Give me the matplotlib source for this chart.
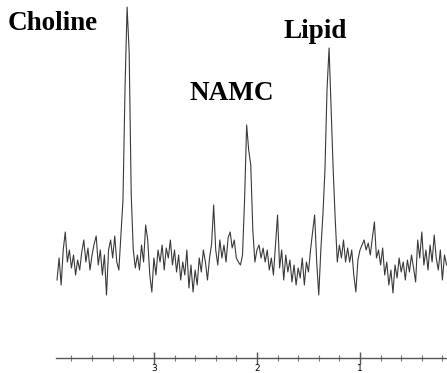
import matplotlib
matplotlib.use("Agg")
import matplotlib.pyplot as plt
from matplotlib.ticker import MultipleLocator
import numpy as np

# chemical shift grid (ppm), high -> low
ppm = np.linspace(3.94, 0.16, 190)

# signal intensity (arbitrary units, baseline ~ 0)
intensity = [
    -15, 7, -20, 15, 33, 3, 15, -3, 10, -10,
    5, -5, 13, 25, 3, 17, -5, 10, 21, 29,
    0, 15, -10, 10, -30, 15, 25, 7, 29, 3,
    -5, 30, 65, 178, 258, 213, 70, 15, -3, 10,
    -5, 20, 3, 40, 25, -10, -27, 7, -10, 15,
    3, 20, -5, 17, 7, 25, 0, 15, -7, 10,
    -15, 3, -10, 15, -23, 0, -27, -5, -20, 7,
    -7, 15, 3, -15, 7, 21, 60, 15, 0, 25,
    7, 20, 3, 27, 33, 17, 25, 7, 3, 0,
    10, 65, 140, 115, 100, 35, 3, 15, 20, 7,
    17, 3, 15, -5, 7, -10, 20, 50, -3, 15,
    -15, 10, -7, 5, -17, 0, -20, -3, -13, 7,
    -20, 3, -7, 15, 33, 50, 3, -30, 15, 50,
    95, 175, 217, 155, 95, 45, 3, 20, 7, 25,
    3, 17, 3, 15, -10, -27, 5, 15, 20, 25,
    15, 22, 10, 27, 43, 7, 15, 0, 17, -10,
    3, -20, -5, -28, 0, -13, 7, -7, 3, -15,
    5, -7, 10, -3, -17, 25, 7, 33, 0, 15,
    -5, 20, 3, 30, 7, -5, 15, -15, 10, 0,
]

peak_labels = ["Choline", "NAMC", "Lipid"]
major_ticks = [3, 2, 1]

W, H = 447, 373
fig = plt.figure(figsize=(W / 100, H / 100), dpi=100)
ax = fig.add_axes([56 / W, 15 / H, 0.876, 358 / H])

ax.plot(ppm, intensity, color="#3a3a3a", lw=0.8)

ax.set_xlim(3.95, 0.15)
ax.set_ylim(-93, 265)

for s in ["top", "left", "right"]:
    ax.spines[s].set_visible(False)
ax.spines["bottom"].set_color("#555555")
ax.spines["bottom"].set_linewidth(1.0)

ax.set_yticks([])
ax.set_xticks(major_ticks)
ax.set_xticklabels([str(t) for t in major_ticks])
ax.xaxis.set_minor_locator(MultipleLocator(0.2))
ax.tick_params(axis="x", which="major", direction="inout", length=8, width=1,
               color="#555555", labelsize=6.5, pad=0)
ax.tick_params(axis="x", which="minor", direction="inout", length=4, width=0.8,
               color="#777777")

# peak labels (pixel positions of the text baselines)
label_pos = [(8, 30), (190, 100), (283, 38)]
for txt, (px, py) in zip(peak_labels, label_pos):
    fig.text(px / W, 1 - py / H, txt, ha="left", va="baseline",
             fontsize=19.5, fontweight="bold", family="Liberation Serif")

fig.savefig("out.png", dpi=100)
